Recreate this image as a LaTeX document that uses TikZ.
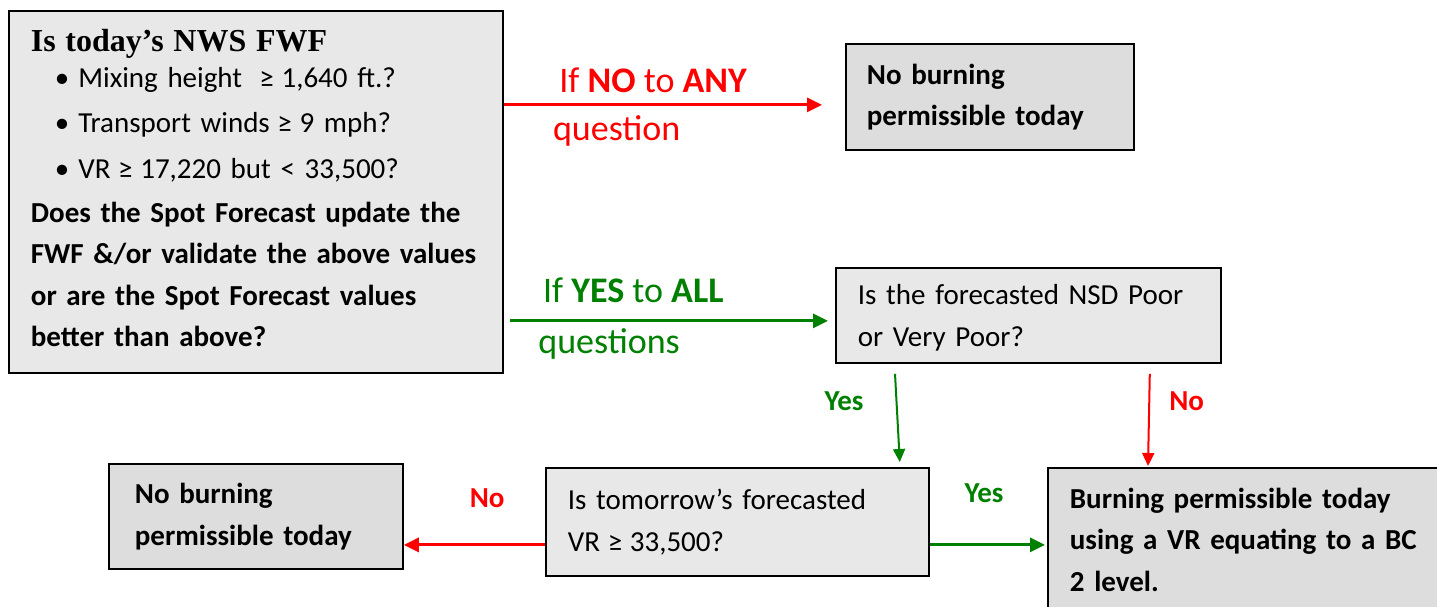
\documentclass[tikz,border=0pt]{standalone}
\usepackage{fontspec}
\setmainfont{Carlito}
\newfontfamily\timesfont{Liberation Serif}
\usetikzlibrary{arrows.meta,calc}

\definecolor{qgray}{RGB}{232,232,232}
\definecolor{ngray}{RGB}{221,221,221}
\definecolor{nored}{RGB}{255,0,0}
\definecolor{yesgreen}{RGB}{0,128,0}

\newcommand{\fwfitem}{\hspace*{24pt}\textbullet\hspace{9pt}}
\newcommand{\geqsym}{\kern-2pt≥\kern-2pt}

\begin{document}
\begin{tikzpicture}[x=1pt,y=1pt,yscale=-1,xscale=1,
  box/.style={draw=black, line width=1.8pt, anchor=north west, align=left, inner ysep=0pt,
    font=\fontsize{29}{41.5}\selectfont},
  qbox/.style={box, fill=qgray},
  nbox/.style={box, fill=ngray, font=\fontsize{29}{41.5}\selectfont\bfseries},
  noarrow/.style={color=nored, line width=3pt, -{Triangle[length=15pt,width=14pt]}},
  yesarrow/.style={color=yesgreen, line width=3pt, -{Triangle[length=15pt,width=14pt]}},
  thinarrow/.style={line width=2pt, -{Triangle[length=13pt,width=12pt]}},
  biglabel/.style={font=\fontsize{36}{40}\selectfont, inner sep=0pt},
  smalllabel/.style={font=\fontsize{29}{32}\selectfont\bfseries, inner sep=0pt}
]

\fill[white, use as bounding box] (0,0) rectangle (1437,607);
\clip (0,0) rectangle (1437,607);

\node[qbox, minimum width=494pt, minimum height=362pt, inner xsep=22pt, text width=450pt] (fwf) at (8,10)
  {{\timesfont\bfseries\fontsize{32}{36}\selectfont Is today’s NWS FWF}\\[-5.5pt]
   \fwfitem Mixing height~~\geqsym\ 1,640 ft.?\\[3.5pt]
   \fwfitem Transport winds \geqsym\ 9 mph?\\[4.5pt]
   \fwfitem VR \geqsym\ 17,220 but < 33,500?\\[2.5pt]
   \textbf{Does the Spot Forecast update the}\\
   \textbf{FWF \&/or validate the above values}\\
   \textbf{or are the Spot Forecast values}\\
   \textbf{better than above?}\rule[-8pt]{0pt}{8pt}};
\node[nbox, minimum width=288pt, minimum height=106pt, inner xsep=21pt, text width=246pt] (nofirst) at (845,43)
  {No burning\\permissible today};
\node[qbox, minimum width=385pt, minimum height=95pt, inner xsep=22pt, text width=341pt] (nsd) at (835,267)
  {\rule{0pt}{25pt}Is the forecasted NSD Poor\\or Very Poor?};
\node[qbox, minimum width=383pt, minimum height=108pt, inner xsep=22pt, text width=339pt] (tomorrow) at (545,467)
  {Is tomorrow’s forecasted\\VR \geqsym\ 33,500?};
\node[nbox, minimum width=294pt, minimum height=105pt, inner xsep=26pt, text width=242pt] (nosecond) at (108,463)
  {No burning\\permissible today};
\node[nbox, minimum width=400pt, minimum height=144pt, inner xsep=22pt, text width=356pt] (burning) at (1047,467)
  {Burning permissible today\\using a VR equating to a BC\\2 level.};

\draw[noarrow] ($(fwf.east |- nofirst.west)+(0,8)$) -- ($(nofirst.west)+(-23,8)$)
  node[biglabel, pos=0.17, anchor=base west, yshift=12pt] {If \textbf{NO} to \textbf{ANY}}
  node[biglabel, pos=0.15, anchor=base west, yshift=-36pt] {question};
\draw[yesarrow] ($(fwf.east |- nsd.west)+(6,5.5)$) -- ($(nsd.west)+(-7,5.5)$)
  node[biglabel, pos=0.10, anchor=base west, yshift=18pt] {If \textbf{YES} to \textbf{ALL}}
  node[biglabel, pos=0.085, anchor=base west, yshift=-33pt] {questions};
\draw[thinarrow, color=yesgreen] ($(nsd.south west)+(60,10)$) -- ($(tomorrow.north east)+(-30,-5)$)
  node[smalllabel, pos=0.31, left=32pt] {Yes};
\draw[thinarrow, color=nored] ($(nsd.south east)+(-72,10)$) -- ($(burning.north west)+(101,-1)$)
  node[smalllabel, pos=0.3, right=19pt] {No};
\draw[noarrow] ($(tomorrow.west)+(0,23)$) -- ($(nosecond.east |- tomorrow.west)+(0,23)$)
  node[smalllabel, pos=0.41, yshift=47pt] {No};
\draw[yesarrow] ($(tomorrow.east)+(0,23)$) -- ($(burning.west |- tomorrow.east)+(-2,23)$)
  node[smalllabel, pos=0.47, yshift=52pt] {Yes};

\end{tikzpicture}
\end{document}
